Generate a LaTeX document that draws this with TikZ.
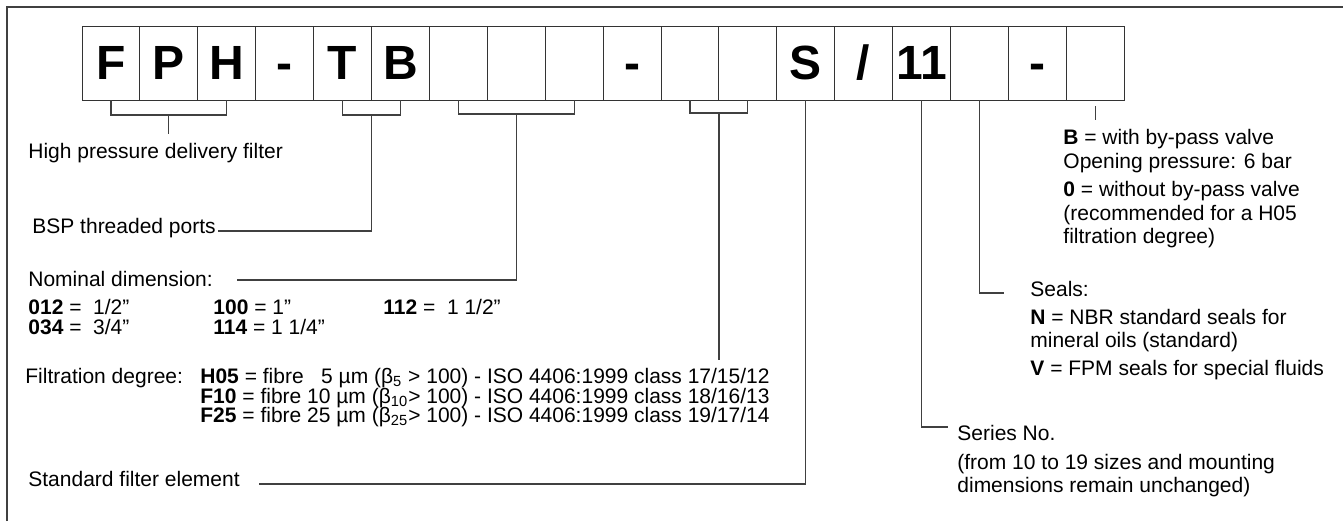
\documentclass[tikz,border=0pt]{standalone}
\usepackage{fontspec}
\setmainfont{Liberation Sans}
\usetikzlibrary{positioning, calc}

\tikzset{
    codebox/.style={draw=black!80, line width=0.5pt, minimum width=28.95pt, minimum height=37pt,
        inner sep=0pt, outer sep=0pt, font=\fontsize{24}{28}\selectfont\bfseries},
    lbl/.style={inner sep=0pt, anchor=base west, font=\fontsize{10.5}{11.75}\selectfont},
    blk/.style={lbl, anchor=north west, align=left},
    link/.style={draw=black!75, line width=0.6pt},
}

\begin{document}
\begin{tikzpicture}[x=0.5pt, y=-0.5pt]
    \useasboundingbox (0,0) rectangle (1343,521);
    \draw[black!75, line width=0.7pt] (7,521) -- (7,7) -- (1343,7);

    % code boxes
    \foreach \c [count=\i] in {F,P,H,-,T,B,{},{},{},-,{},{},S,/,11,{},-,{}}
        \node[codebox] (b\i) at (82+57.9*\i-28.95, 63) {\vphantom{F}\c};

    % left labels
    \node[lbl] (hpd) at (28,158) {High pressure delivery filter};
    \node[lbl] (bsp) at (32,233) {BSP threaded ports};
    \node[lbl] (nom) at (28,286) {Nominal dimension:};
    \node[lbl] (d012) at (28,314) {\textbf{012} = \ 1/2”};
    \node[lbl] (d100) at (213,314) {\textbf{100} = 1”};
    \node[lbl] (d112) at (383,314) {\textbf{112} = \ 1 1/2”};
    \node[lbl] (d034) at (28,334) {\textbf{034} = \ 3/4”};
    \node[lbl] (d114) at (213,334) {\textbf{114} = 1 1/4”};
    \node[lbl] (fdeg) at (25,383) {Filtration degree:};
    \node[lbl] (h05) at (200,383) {\textbf{H05} = fibre \phantom{1}5 µm (β\textsubscript{5} > 100) - ISO 4406:1999 class 17/15/12};
    \node[lbl] (f10) at (200,403) {\textbf{F10} = fibre 10 µm (β\textsubscript{10}> 100) - ISO 4406:1999 class 18/16/13};
    \node[lbl] (f25) at (200,422) {\textbf{F25} = fibre 25 µm (β\textsubscript{25}> 100) - ISO 4406:1999 class 19/17/14};
    \node[lbl] (sfe) at (28,486) {Standard filter element};

    % right labels
    \node[blk] (bypass) at (1063,129) {\textbf{B} = with by-pass valve\\ Opening pressure: 6 bar\\[2.5pt]
        \textbf{0} = without by-pass valve\\ (recommended for a H05\\ filtration degree)};
    \node[blk] (seals) at (1030,281) {Seals:\\[2pt] \textbf{N} = NBR standard seals for\\
        mineral oils (standard)\\[2pt] \textbf{V} = FPM seals for special fluids};
    \node[blk] (series) at (957,425) {Series No.\\[2.5pt] (from 10 to 19 sizes and mounting\\
        dimensions remain unchanged)};

    % brackets and leaders
    \draw[link] (b1.south) -- ++(0,15) -| (b3.south);
    \draw[link] ($(b2.south)+(0,15)$) -- ($(b2.south |- hpd.north)+(0,-8)$);
    \draw[link] (b5.south) -- ++(0,15) -| (b6.south);
    \draw[link] ($(b5.south east)+(0,15)$) |- ([xshift=1pt, yshift=1pt]bsp.base east);
    \draw[link] (b7.south) -- ++(0,14) -| (b9.south);
    \draw[link] ($(b8.south)+(0,14)$) |- ([xshift=12pt, yshift=3pt]nom.base east);
    \draw[link] (b11.south) -- ++(0,13) -| (b12.south);
    \coordinate (fend) at ($(b11.south east)+(0,260)$);
    \draw[link] ($(b11.south east)+(0,13)$) -- (fend);
    \draw[link] (b13.south) |- ([xshift=9.5pt, yshift=1pt]sfe.base east);
    \draw[link] (b15.south) |- ([xshift=-4.5pt, yshift=-1pt]series.north west);
    \draw[link] (b16.south) |- ([xshift=-13pt, yshift=-6pt]seals.north west);
    \draw[link] ($(b18.south)+(0,6)$) -- ($(b18.south |- bypass.north)+(0,-9)$);
\end{tikzpicture}
\end{document}
